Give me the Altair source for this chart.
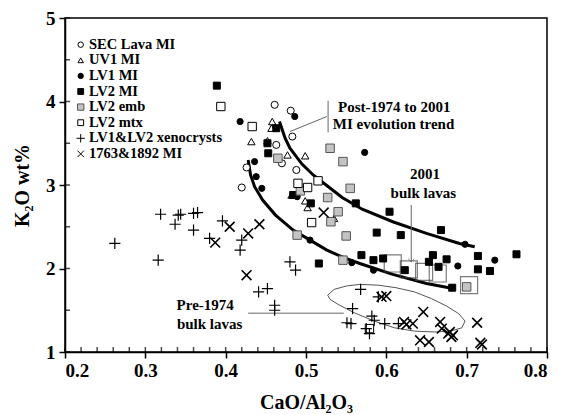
import altair as alt
import pandas as pd

FONT = "Liberation Serif"

# ---------------- data ----------------
series_names = ["SEC Lava MI", "UV1 MI", "LV1 MI", "LV2 MI", "LV2 emb",
                "LV2 mtx", "LV1&LV2 xenocrysts", "1763&1892 MI"]

sec_x = [0.461, 0.481, 0.483, 0.463, 0.470, 0.488, 0.426, 0.420]
sec_y = [3.96, 3.89, 3.58, 3.48, 3.26, 3.18, 3.21, 2.97]

uv1_x = [0.458, 0.457, 0.432, 0.452, 0.477, 0.499, 0.482, 0.499, 0.502, 0.535]
uv1_y = [3.76, 3.68, 3.52, 3.53, 3.36, 3.35, 2.88, 2.81, 2.73, 2.60]

lv1_x = [0.486, 0.418, 0.573, 0.436, 0.438, 0.445, 0.489, 0.505, 0.557, 0.584, 0.698, 0.735, 0.689]
lv1_y = [3.82, 3.76, 3.39, 3.28, 3.10, 2.96, 2.86, 2.34, 2.07, 1.98, 2.29, 2.10, 2.03]

lv2_x = [0.389, 0.452, 0.453, 0.463, 0.484, 0.506, 0.562, 0.604, 0.588, 0.618, 0.668,
         0.569, 0.584, 0.596, 0.516, 0.623, 0.658, 0.653, 0.665, 0.675, 0.682,
         0.714, 0.714, 0.729, 0.762]
lv2_y = [4.19, 3.50, 3.38, 3.68, 2.88, 2.78, 2.78, 2.68, 2.43, 2.40, 2.46,
         2.16, 2.10, 2.12, 2.06, 1.98, 2.16, 2.08, 2.02, 2.11, 1.77,
         2.15, 1.99, 1.97, 2.17]

emb_x = [0.465, 0.530, 0.546, 0.555, 0.493, 0.527, 0.540, 0.531, 0.550, 0.489, 0.546, 0.700]
emb_y = [3.32, 3.44, 3.28, 2.96, 2.93, 2.85, 2.68, 2.56, 2.39, 2.40, 2.10, 1.78]

mtx_x = [0.394, 0.433, 0.490, 0.502, 0.515, 0.507, 0.579]
mtx_y = [3.94, 3.70, 3.02, 2.97, 3.05, 2.55, 1.28]

xeno_x = [0.262, 0.316, 0.319, 0.337, 0.341, 0.344, 0.360, 0.365, 0.360, 0.380, 0.396,
          0.420, 0.418, 0.480, 0.487, 0.441, 0.452, 0.461, 0.461, 0.568, 0.558,
          0.551, 0.556, 0.582, 0.575, 0.579, 0.590, 0.598, 0.585, 0.615]
xeno_y = [2.30, 2.10, 2.65, 2.53, 2.64, 2.65, 2.66, 2.67, 2.46, 2.36, 2.57,
          2.34, 2.22, 2.08, 1.98, 1.72, 1.76, 1.56, 1.50, 1.75, 1.52,
          1.35, 1.34, 1.43, 1.28, 1.22, 1.66, 1.34, 1.38, 1.34]

hist_x = [0.405, 0.387, 0.428, 0.442, 0.426, 0.522, 0.594, 0.600, 0.622, 0.625, 0.633,
          0.646, 0.642, 0.653, 0.667, 0.669, 0.677, 0.681, 0.679, 0.683, 0.713, 0.717, 0.719]
hist_y = [2.50, 2.31, 2.42, 2.53, 1.92, 2.67, 1.66, 1.67, 1.36, 1.33, 1.34,
          1.48, 1.14, 1.12, 1.36, 1.28, 1.22, 1.18, 1.24, 1.20, 1.35, 1.11, 1.09]

# 2001 bulk lavas (large open squares)
bulk_x = [0.608, 0.628, 0.647, 0.664, 0.703]
bulk_y = [2.06, 1.99, 1.96, 1.94, 1.80]

# MI evolution trend curves
upper_x = [0.467, 0.474, 0.480, 0.495, 0.509, 0.525, 0.545, 0.570, 0.608, 0.650, 0.691, 0.710]
upper_y = [3.76, 3.56, 3.44, 3.25, 3.12, 3.00, 2.85, 2.71, 2.56, 2.42, 2.30, 2.26]
lower_x = [0.428, 0.431, 0.436, 0.446, 0.462, 0.484, 0.505, 0.526, 0.547, 0.567, 0.608, 0.650, 0.683]
lower_y = [3.30, 3.12, 2.98, 2.82, 2.64, 2.46, 2.34, 2.22, 2.13, 2.06, 1.93, 1.82, 1.76]

# Pre-1974 bulk lava field outline
ell_x = [0.527, 0.535, 0.550, 0.567, 0.590, 0.612, 0.635, 0.656, 0.675, 0.690, 0.698,
         0.694, 0.680, 0.660, 0.635, 0.610, 0.585, 0.560, 0.540, 0.530, 0.527]
ell_y = [1.68, 1.75, 1.79, 1.81, 1.80, 1.77, 1.72, 1.64, 1.55, 1.46, 1.37,
         1.29, 1.25, 1.24, 1.25, 1.29, 1.37, 1.47, 1.57, 1.63, 1.68]

# annotation leader lines (x, y, x2, y2)
lead_x = [0.5275, 0.526, 0.631, 0.428]
lead_y = [4.01, 3.82, 2.76, 1.465]
lead_x2 = [0.5275, 0.480, 0.631, 0.547]
lead_y2 = [3.63, 3.64, 2.08, 1.465]

# annotation texts
ann_text = ["Post-1974 to 2001", "MI evolution trend", "2001", "bulk lavas", "Pre-1974", "bulk lavas"]
ann_x = [0.610, 0.609, 0.648, 0.646, 0.3745, 0.380]
ann_y = [3.94, 3.725, 3.13, 2.90, 1.56, 1.33]

x_ticks = [0.2, 0.3, 0.4, 0.5, 0.6, 0.7, 0.8]
y_ticks = [1, 2, 3, 4, 5]
x_minor = [round(0.2 + 0.02 * i, 2) for i in range(31)]
y_minor = [1 + 0.5 * i for i in range(9)]

# ---------------- styles ----------------
W, H = 482, 334
PLUS = "M-1,0L1,0M0,-1L0,1"
XMARK = "M-0.8,-0.8L0.8,0.8M-0.8,0.8L0.8,-0.8"
styles = [
    dict(shape="circle", fill="white", stroke="black", size=50, sw=1.0, lsize=30),
    dict(shape="triangle-up", fill="white", stroke="black", size=55, sw=1.0, lsize=30),
    dict(shape="circle", fill="black", stroke="black", size=38, sw=1.0, lsize=28),
    dict(shape="square", fill="black", stroke="black", size=49, sw=1.0, lsize=34),
    dict(shape="square", fill="#c4c4c4", stroke="#555555", size=72, sw=1.0, lsize=40),
    dict(shape="square", fill="white", stroke="black", size=70, sw=1.0, lsize=34),
    dict(shape=PLUS, fill="transparent", stroke="black", size=125, sw=1.2, lsize=70),
    dict(shape=XMARK, fill="transparent", stroke="black", size=150, sw=1.6, lsize=64),
]

xscale = alt.Scale(domain=[0.2, 0.8], nice=False, zero=False)
yscale = alt.Scale(domain=[1, 5], nice=False, zero=False)

X_AXIS = alt.Axis(orient="bottom", values=x_ticks, format=".1f", tickSize=6,
                  tickWidth=1.5, tickColor="black", domainColor="black",
                  domainWidth=1.5, grid=False, labelFont=FONT, labelFontSize=19,
                  labelFontWeight="bold", labelColor="black", labelPadding=3,
                  title="CaO/Al\u2082O\u2083", titleFont=FONT, titleFontSize=20,
                  titleFontWeight="bold", titleColor="black", titleY=50,
                  titleBaseline="middle")
Y_AXIS = alt.Axis(orient="left", values=y_ticks, format="d", tickSize=6,
                  tickWidth=1.5, tickColor="black", domainColor="black",
                  domainWidth=1.5, grid=False, labelFont=FONT, labelFontSize=19,
                  labelFontWeight="bold", labelColor="black", labelPadding=4,
                  title="K\u2082O wt%", titleFont=FONT, titleFontSize=20,
                  titleFontWeight="bold", titleColor="black", titleAngle=270,
                  titleX=-43, titleY=H / 2, titleBaseline="middle", titleAlign="center")


def X(field="x"):
    return alt.X(f"{field}:Q", scale=xscale, axis=X_AXIS)


def Y(field="y"):
    return alt.Y(f"{field}:Q", scale=yscale, axis=Y_AXIS)


# ---------------- layers ----------------
layers = []

# inward tick marks along the axes (placed by the scales)
layers.append(alt.Chart(pd.DataFrame({"v": x_minor})).mark_tick(
    color="black", thickness=1.5, size=5).encode(x=X("v"), y=alt.value(H - 2.5)))
layers.append(alt.Chart(pd.DataFrame({"v": y_minor})).mark_tick(
    color="black", thickness=1.5, size=5).encode(y=Y("v"), x=alt.value(2.5)))

# pre-1974 field outline
layers.append(alt.Chart(pd.DataFrame({"i": list(range(len(ell_x))), "x": ell_x, "y": ell_y}))
              .mark_line(color="#555555", strokeWidth=1).encode(x=X(), y=Y(), order="i:Q"))

# evolution trend curves
curves = pd.DataFrame(
    [{"curve": "upper", "i": i, "x": a, "y": b} for i, (a, b) in enumerate(zip(upper_x, upper_y))]
    + [{"curve": "lower", "i": i, "x": a, "y": b} for i, (a, b) in enumerate(zip(lower_x, lower_y))]
)
layers.append(alt.Chart(curves).mark_line(color="black", strokeWidth=3).encode(
    x=X(), y=Y(), detail="curve:N", order="i:Q"))

# 2001 bulk lavas
layers.append(alt.Chart(pd.DataFrame({"x": bulk_x, "y": bulk_y})).mark_point(
    shape="square", filled=False, size=290, stroke="#444444", strokeWidth=1.2).encode(x=X(), y=Y()))

# leader lines and arrow head
leads = pd.DataFrame({"x": lead_x, "y": lead_y, "x2": lead_x2, "y2": lead_y2})
layers.append(alt.Chart(leads).mark_rule(color="#666666", strokeWidth=1).encode(
    x=X(), y=Y(), x2="x2:Q", y2="y2:Q"))
layers.append(alt.Chart(pd.DataFrame({"x": [lead_x2[2]], "y": [lead_y2[2]]})).mark_point(
    shape="M-1,-1L0,0L1,-1", filled=False, size=40, stroke="#666666", strokeWidth=1
).encode(x=X(), y=Y()))

# data series
groups_x = [sec_x, uv1_x, lv1_x, lv2_x, emb_x, mtx_x, xeno_x, hist_x]
groups_y = [sec_y, uv1_y, lv1_y, lv2_y, emb_y, mtx_y, xeno_y, hist_y]
for name, xs, ys, st in zip(series_names, groups_x, groups_y, styles):
    df = pd.DataFrame({"x": xs, "y": ys, "series": name})
    layers.append(alt.Chart(df).mark_point(
        shape=st["shape"], filled=True, fill=st["fill"], stroke=st["stroke"],
        size=st["size"], strokeWidth=st["sw"], opacity=1).encode(x=X(), y=Y()))

# annotations
ann = pd.DataFrame({"x": ann_x, "y": ann_y, "t": ann_text})
layers.append(alt.Chart(ann).mark_text(
    font=FONT, fontSize=15, fontWeight="bold", color="black", align="center",
    baseline="middle").encode(x=X(), y=Y(), text="t:N"))

# legend (top-left, inside the frame)
LEG_X, LEG_Y0, LEG_DY = 15.7, 26.7, 15.6
for i, (name, st) in enumerate(zip(series_names, styles)):
    yy = LEG_Y0 + i * LEG_DY
    layers.append(alt.Chart(pd.DataFrame({"series": [name]})).mark_point(
        shape=st["shape"], filled=True, fill=st["fill"], stroke=st["stroke"],
        size=st["lsize"], strokeWidth=1.0, opacity=1).encode(
        x=alt.value(LEG_X), y=alt.value(yy)))
    layers.append(alt.Chart(pd.DataFrame({"series": [name]})).mark_text(
        font=FONT, fontSize=14.5, fontWeight="bold", color="black", align="left",
        baseline="middle").encode(
        x=alt.value(LEG_X + 8.3), y=alt.value(yy), text="series:N"))

chart = alt.layer(*layers).properties(
    width=W, height=H,
    autosize=alt.AutoSizeParams(type="none"),
    padding={"left": 57, "top": 10, "right": 10, "bottom": 63},
    background="white",
).configure_view(stroke="black", strokeWidth=1.5)

chart.save("out.html", embed_options={"renderer": "svg", "actions": False})
